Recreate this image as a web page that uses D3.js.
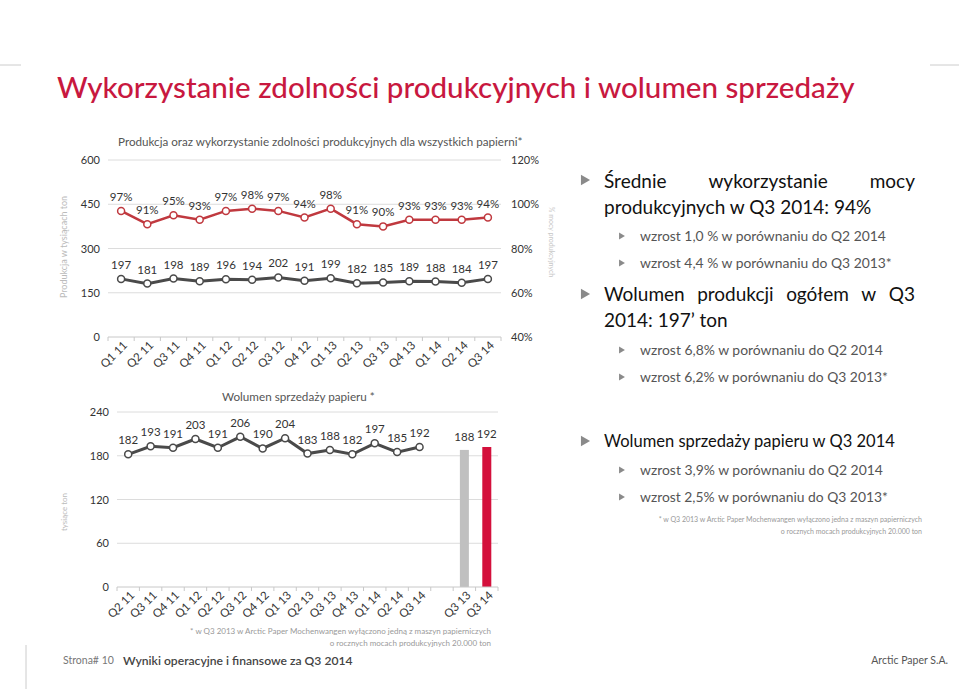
<!DOCTYPE html>
<html>
<head>
<meta charset="utf-8">
<script src="https://cdn.jsdelivr.net/npm/d3@7"></script>
<style>
  html, body { margin:0; padding:0; background:#fff; }
  svg { display:block; font-family: Lato, "Open Sans", sans-serif; }
</style>
</head>
<body>
<svg id="slide" width="959" height="689"></svg>
<script>
// production chart
const prodQuarters = ["Q1 11","Q2 11","Q3 11","Q4 11","Q1 12","Q2 12","Q3 12","Q4 12","Q1 13","Q2 13","Q3 13","Q4 13","Q1 14","Q2 14","Q3 14"];
const utilization  = [97,91,95,93,97,98,97,94,98,91,90,93,93,93,94];
const production   = [197,181,198,189,196,194,202,191,199,182,185,189,188,184,197];
const prodTicks    = [0,150,300,450,600];
const utilTicks    = [40,60,80,100,120];

// sales chart
const salesLabels  = ["Q2 11","Q3 11","Q4 11","Q1 12","Q2 12","Q3 12","Q4 12","Q1 13","Q2 13","Q3 13","Q4 13","Q1 14","Q2 14","Q3 14","","Q3 13","Q3 14"];
const salesLine    = [182,193,191,203,191,206,190,204,183,188,182,197,185,192];
const barQuarters  = [15,16];           // slots of the two bars on the sales axis
const barValues    = [188,192];
const salesTicks   = [0,60,120,180,240];

const RED = "#c8183f";
const svg = d3.select("#slide");

function fitWidth(t, w){
  const len = t.node().getComputedTextLength();
  const fs = parseFloat(t.style("font-size"));
  t.style("font-size", (fs * w / len) + "px");
  return t;
}

// header
svg.append("line").attr("x1",0).attr("x2",21).attr("y1",65).attr("y2",65).attr("stroke","#ccc");
svg.append("line").attr("x1",930).attr("x2",959).attr("y1",65).attr("y2",65).attr("stroke","#ccc");
const title = svg.append("text")
  .attr("x",57).attr("y",98)
  .attr("fill",RED).style("font-size","28px").style("font-weight",500)
  .text("Wykorzystanie zdolności produkcyjnych i wolumen sprzedaży");
fitWidth(title, 798);

function xTicks(g, x, y0, labels){
  const bw = x.step();
  const left = x.range()[0], right = x.range()[1];
  g.append("line").attr("x1",left).attr("x2",right).attr("y1",y0).attr("y2",y0).attr("stroke","#c8c8c8");
  for (let i=0;i<=labels.length;i++){
    g.append("line").attr("x1",left+i*bw).attr("x2",left+i*bw).attr("y1",y0).attr("y2",y0+4).attr("stroke","#c8c8c8");
  }
  g.selectAll("text.xl").data(labels).join("text")
    .attr("class","xl")
    .attr("text-anchor","end")
    .attr("transform",(d,i)=>`translate(${x(i)+x.bandwidth()/2+7},${y0+9}) rotate(-45)`)
    .attr("fill","#333").style("font-size","11.5px")
    .text(d=>d);
}

// ---------- production chart ----------
{
  const g = svg.append("g");
  const x = d3.scaleBand().domain(d3.range(prodQuarters.length)).range([108,501]);
  const yL = d3.scaleLinear().domain([0,600]).range([337,160]);
  const yR = d3.scaleLinear().domain([40,120]).range([337,160]);
  const cx = i => x(i)+x.bandwidth()/2;

  g.selectAll("line.grid").data(prodTicks.slice(1)).join("line")
    .attr("x1",108).attr("x2",501).attr("y1",d=>yL(d)).attr("y2",d=>yL(d))
    .attr("stroke","#dcdcdc");

  g.selectAll("text.yl").data(prodTicks).join("text")
    .attr("x",100).attr("y",d=>yL(d)+4).attr("text-anchor","end")
    .attr("fill","#333").style("font-size","11px").text(d=>d);
  g.selectAll("text.yr").data(utilTicks).join("text")
    .attr("x",511).attr("y",d=>yR(d)+4)
    .attr("fill","#333").style("font-size","11px").text(d=>d+"%");

  xTicks(g, x, 337, prodQuarters);

  fitWidth(g.append("text").attr("x",118).attr("y",146)
    .attr("fill","#555").style("font-size","12px")
    .text("Produkcja oraz wykorzystanie zdolności produkcyjnych dla wszystkich papierni*"), 405);
  g.append("text").attr("transform","translate(67,247) rotate(-90)").attr("text-anchor","middle")
    .attr("fill","#bbb").style("font-size","9px").text("Produkcja w tysiącach ton");
  g.append("text").attr("transform","translate(549,242) rotate(90)").attr("text-anchor","middle")
    .attr("fill","#c8c8c8").style("font-size","7px").text("% mocy produkcyjnych");

  const series = [
    {vals:utilization, y:yR, color:"#c0393f", w:2.5, fmt:d=>d+"%"},
    {vals:production,  y:yL, color:"#4a4a4a", w:3,   fmt:d=>d}
  ];
  series.forEach(s=>{
    g.append("path").datum(s.vals)
      .attr("d", d3.line().x((d,i)=>cx(i)).y(d=>s.y(d)))
      .attr("fill","none").attr("stroke",s.color).attr("stroke-width",s.w);
    g.selectAll(null).data(s.vals).join("circle")
      .attr("cx",(d,i)=>cx(i)).attr("cy",d=>s.y(d)).attr("r",3.5)
      .attr("fill","#fff").attr("stroke",s.color).attr("stroke-width",1.5);
    g.selectAll(null).data(s.vals).join("text")
      .attr("x",(d,i)=>cx(i)).attr("y",d=>s.y(d)-10).attr("text-anchor","middle")
      .attr("fill","#333").style("font-size","11.5px").text(s.fmt);
  });
}

// ---------- sales chart ----------
{
  const g = svg.append("g");
  const x = d3.scaleBand().domain(d3.range(salesLabels.length)).range([117,498]);
  const y = d3.scaleLinear().domain([0,240]).range([587,412]);
  const cx = i => x(i)+x.bandwidth()/2;

  g.selectAll("line.grid").data(salesTicks.slice(1)).join("line")
    .attr("x1",117).attr("x2",498).attr("y1",d=>y(d)).attr("y2",d=>y(d))
    .attr("stroke","#dcdcdc");
  g.selectAll("text.yl").data(salesTicks).join("text")
    .attr("x",109).attr("y",d=>y(d)+4).attr("text-anchor","end")
    .attr("fill","#333").style("font-size","11px").text(d=>d);

  g.selectAll("rect").data(barValues).join("rect")
    .attr("x",(d,i)=>cx(barQuarters[i])-4.5).attr("width",9)
    .attr("y",d=>y(d)).attr("height",d=>y(0)-y(d))
    .attr("fill",(d,i)=>i===0?"#c0c0c0":"#d4103c");
  g.selectAll("text.bl").data(barValues).join("text")
    .attr("x",(d,i)=>cx(barQuarters[i])).attr("y",d=>y(d)-9).attr("text-anchor","middle")
    .attr("fill","#333").style("font-size","11.5px").text(d=>d);

  xTicks(g, x, 587, salesLabels);

  g.append("path").datum(salesLine)
    .attr("d", d3.line().x((d,i)=>cx(i)).y(d=>y(d)))
    .attr("fill","none").attr("stroke","#4a4a4a").attr("stroke-width",3);
  g.selectAll("circle").data(salesLine).join("circle")
    .attr("cx",(d,i)=>cx(i)).attr("cy",d=>y(d)).attr("r",3.5)
    .attr("fill","#fff").attr("stroke","#4a4a4a").attr("stroke-width",1.5);
  g.selectAll("text.vl").data(salesLine).join("text")
    .attr("x",(d,i)=>cx(i)).attr("y",d=>y(d)-10).attr("text-anchor","middle")
    .attr("fill","#333").style("font-size","11.5px").text(d=>d);

  fitWidth(g.append("text").attr("x",222).attr("y",401)
    .attr("fill","#555").style("font-size","12.5px").text("Wolumen sprzedaży papieru *"), 153);
  g.append("text").attr("transform","translate(67,512) rotate(-90)").attr("text-anchor","middle")
    .attr("fill","#bbb").style("font-size","8px").text("tysiące ton");

  g.append("text").attr("x",491).attr("y",634).attr("text-anchor","end")
    .attr("fill","#999").style("font-size","8px")
    .text("* w Q3 2013 w Arctic Paper Mochenwangen wyłączono jedną z maszyn papierniczych");
  g.append("text").attr("x",491).attr("y",646).attr("text-anchor","end")
    .attr("fill","#999").style("font-size","8px")
    .text("o rocznych mocach produkcyjnych 20.000 ton");
}

// ---------- right panel ----------
{
  const g = svg.append("g");
  const tri = (x,y,s) => g.append("path")
    .attr("d", d3.symbol(d3.symbolTriangle, s)())
    .attr("transform",`translate(${x},${y}) rotate(90)`).attr("fill","#8a8a8a");

  function justify(words, x0, x1, y, size, color){
    const nodes = words.map(w => g.append("text").attr("y",y).attr("fill",color)
      .style("font-size",size+"px").text(w));
    const widths = nodes.map(n=>n.node().getComputedTextLength());
    const gap = (x1-x0-d3.sum(widths))/(words.length-1);
    let x = x0;
    nodes.forEach((n,i)=>{ n.attr("x",x); x += widths[i]+gap; });
  }
  const line = (txt,x,y,size,color) => g.append("text").attr("x",x).attr("y",y)
    .attr("fill",color).style("font-size",size+"px").text(txt);

  const big = 19;
  tri(584,180,48);
  justify(["Średnie","wykorzystanie","mocy"],604,915,188,big,"#111");
  line("produkcyjnych w Q3 2014: 94%",604,214,big,"#111");
  tri(621,236,20); fitWidth(line("wzrost 1,0 % w porównaniu do Q2 2014",640,241,13.5,"#555"),246);
  tri(621,263,20); fitWidth(line("wzrost 4,4 % w porównaniu do Q3 2013*",640,268,13.5,"#555"),252);

  tri(584,294,48);
  justify(["Wolumen","produkcji","ogółem","w","Q3"],604,915,301,big,"#111");
  line("2014: 197’ ton",604,327,big,"#111");
  tri(621,350,20); fitWidth(line("wzrost 6,8% w porównaniu do Q2 2014",640,355,13.5,"#555"),243);
  tri(621,377,20); fitWidth(line("wzrost 6,2% w porównaniu do Q3 2013*",640,382,13.5,"#555"),248);

  tri(584,441,48);
  fitWidth(line("Wolumen sprzedaży papieru w Q3 2014",604,447,17,"#111"),291);
  tri(621,470,20); fitWidth(line("wzrost 3,9% w porównaniu do Q2 2014",640,475,13.5,"#555"),243);
  tri(621,497,20); fitWidth(line("wzrost 2,5% w porównaniu do Q3 2013*",640,502,13.5,"#555"),248);

  g.append("text").attr("x",922).attr("y",522).attr("text-anchor","end")
    .attr("fill","#999").style("font-size","7px")
    .text("* w Q3 2013 w Arctic Paper Mochenwangen wyłączono jedna z maszyn papierniczych");
  g.append("text").attr("x",922).attr("y",534).attr("text-anchor","end")
    .attr("fill","#999").style("font-size","7px")
    .text("o rocznych mocach produkcyjnych 20.000 ton");
}

// footer
svg.append("line").attr("x1",26).attr("x2",26).attr("y1",645).attr("y2",689).attr("stroke","#ccc");
svg.append("text").attr("x",63).attr("y",664).attr("fill","#777").style("font-size","10.5px").text("Strona# 10");
fitWidth(svg.append("text").attr("x",123).attr("y",665).attr("fill","#444").style("font-size","13px").style("font-weight",600)
  .text("Wyniki operacyjne i finansowe za Q3 2014"), 230);
svg.append("text").attr("x",948).attr("y",664).attr("text-anchor","end").attr("fill","#555").style("font-size","10.5px")
  .text("Arctic Paper S.A.");
</script>
</body>
</html>
